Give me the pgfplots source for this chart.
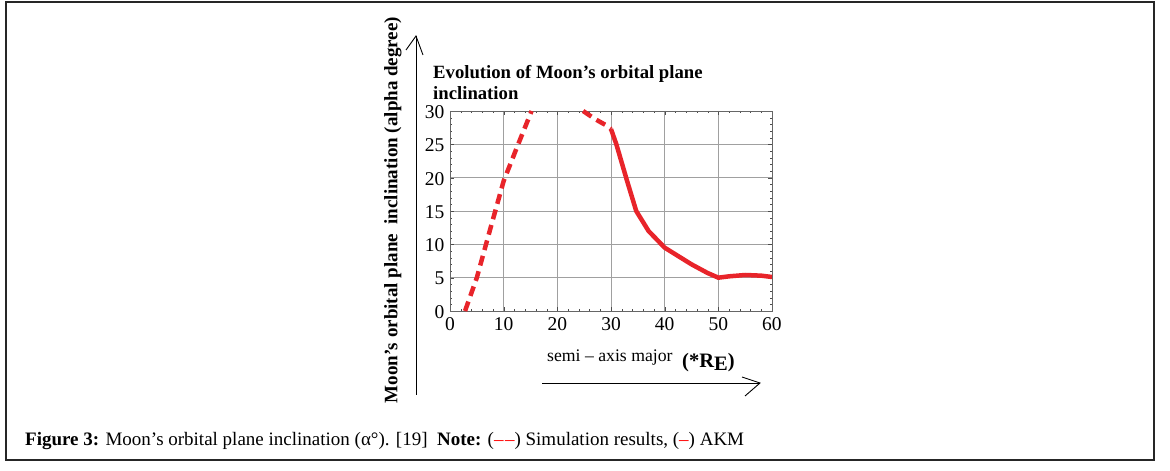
\documentclass[border=0pt]{standalone}
\usepackage{pgfplots}
\pgfplotsset{compat=1.18}
\usepackage{fontspec}
\setmainfont{Liberation Serif}
\definecolor{curvered}{HTML}{E8242A}
\definecolor{gridgray}{HTML}{A0A0A0}
\newcommand{\fs}[1]{\fontsize{#1}{#1}\selectfont}
\begin{document}
\begin{tikzpicture}[x=1pt,y=1pt]
\useasboundingbox (0,0) rectangle (1170,471);
\draw[line width=1.3pt,black!85] (6,469) rectangle (1154,11);
% chart
\begin{axis}[
    at={(450pt,160pt)}, anchor=south west,
    scale only axis, width=322pt, height=200pt,
    xmin=0, xmax=60, ymin=0, ymax=30,
    xtick={0,10,...,60}, ytick={0,5,...,30},
    minor x tick num=4, minor y tick num=4,
    major tick length=4pt, minor tick length=2pt,
    tick style={black!70},
    grid=major, grid style={gridgray, line width=0.8pt},
    axis line style={black!60, line width=0.8pt},
    ticklabel style={font=\fs{19.5}},
    xticklabel style={yshift=-3pt},
    yticklabel style={xshift=-2pt, yshift=-1pt},
    /pgf/number format/assume math mode=true,
    clip=false,
]
\addplot[curvered, line width=4.5pt, dash pattern=on 10pt off 6pt] coordinates {
    (2.8,0) (5,5) (7.5,12.3) (10,19.5) (12.5,24.6) (15.2,30)
};
\addplot[curvered, line width=4.5pt, dash pattern=on 10pt off 6pt] coordinates {
    (24.8,30) (27,28.8) (29,27.9) (30,27.3)
};
\addplot[curvered, line width=4.5pt] coordinates {
    (30,27.3) (31,25) (33,19.5) (34.7,15) (37,12) (40,9.5) (42,8.5)
    (45,7) (48,5.7) (50,5) (52,5.2) (55,5.4) (58,5.3) (60,5.1)
};
\end{axis}
% title
\node[anchor=base west, inner sep=0, font=\bfseries\fs{18.7}] at (433,392) {Evolution of Moon's orbital plane};
\node[anchor=base west, inner sep=0, font=\bfseries\fs{18.7}] at (433,371) {inclination};
% y axis arrow and label
\draw[line width=0.9pt] (416,76) -- (416,435);
\draw[line width=0.9pt] (406,421) -- (416,435) -- (423,416);
\node[rotate=90, inner sep=0, font=\bfseries\fs{19}] at (393,261) {Moon's orbital plane\ \ inclination (alpha degree)};
% x axis arrow and label
\node[anchor=base west, inner sep=0, font=\fs{17.7}] at (547,109) {semi \textendash\ axis major};
\node[anchor=base west, inner sep=0, font=\bfseries\fs{20.5}] at (682,103) {(*R\raisebox{-3pt}{E})};
\draw[line width=0.9pt] (542,88) -- (760,88);
\draw[line width=0.9pt] (742,94) -- (760,88) -- (745,75);
% caption
\node[anchor=base west, inner sep=0, font=\fs{19}] at (25,25) {\textbf{Figure 3:} Moon’s orbital plane inclination (α°). [19]\ \ \textbf{Note:} ({\color{red}\textendash\kern1.5pt\textendash}) Simulation results, ({\color{red}\textendash}) AKM};
\end{tikzpicture}
\end{document}
